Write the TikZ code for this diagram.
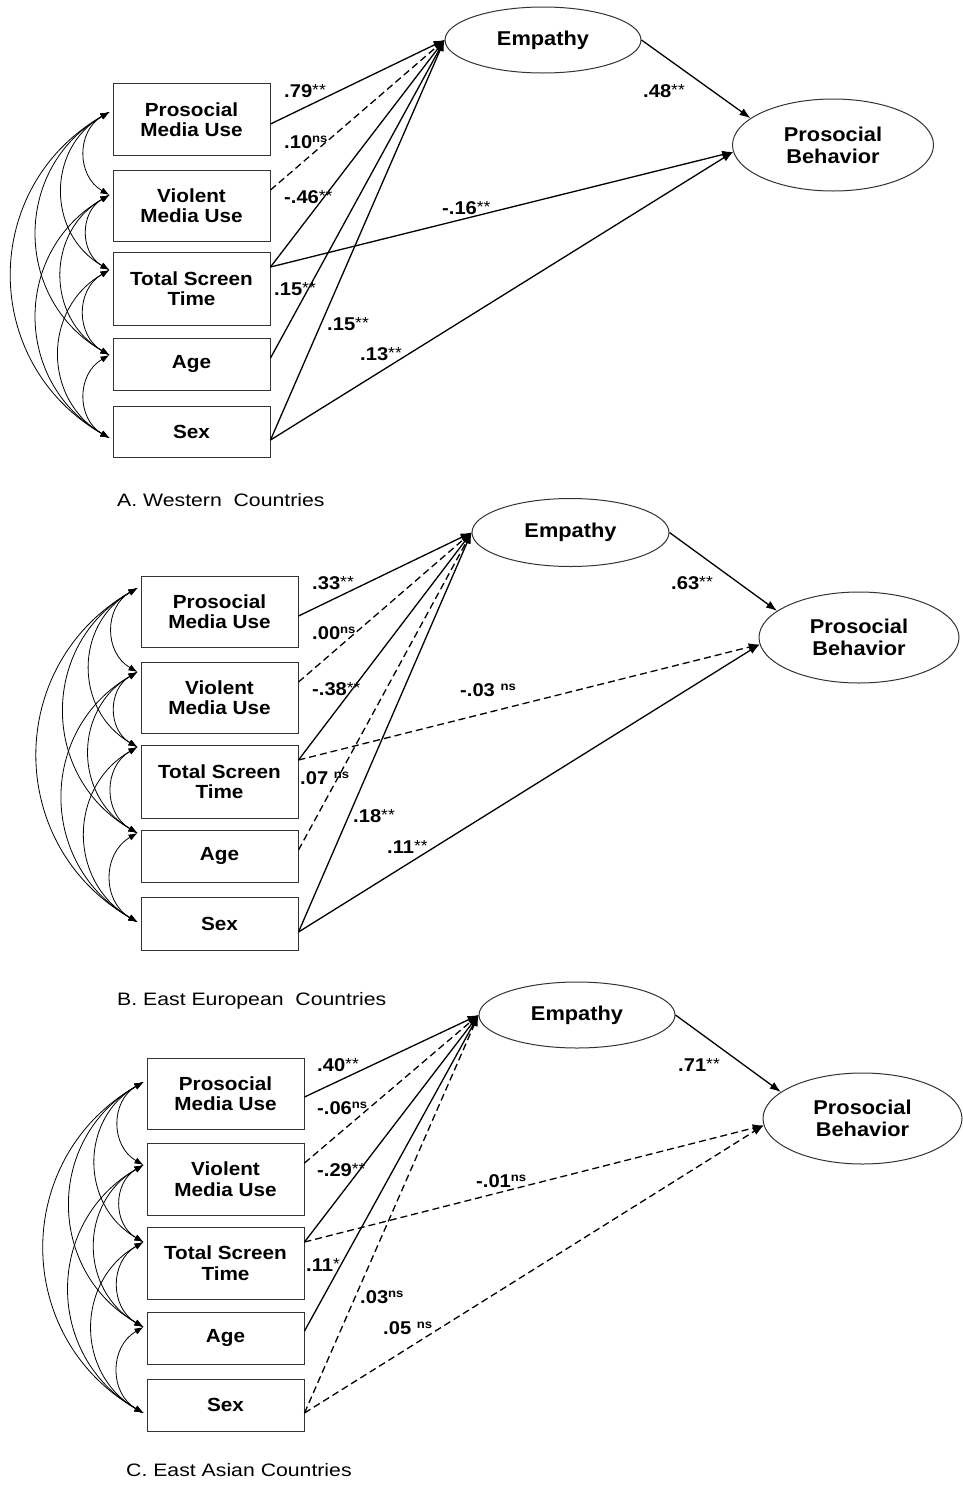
\documentclass[tikz,border=0pt]{standalone}
\usepackage{fontspec}
\setmainfont{Liberation Sans}[FakeStretch=1.09]
\newfontfamily\capfont{Liberation Sans}[FakeStretch=1.18]
\usetikzlibrary{arrows.meta,shapes.geometric,calc}
\newcommand\st[1]{\raisebox{1.8pt}{\fontsize{16}{16}\selectfont\mdseries #1}}
\newcommand\nsx[1]{\raisebox{6pt}{\fontsize{12}{12}\selectfont\bfseries #1}}
\begin{document}
\begin{tikzpicture}[x=1pt,y=-1pt,
  box/.style={draw=black!80, line width=1pt, minimum width=157pt, align=center, inner sep=0pt, font=\fontsize{19}{20.5}\selectfont\bfseries},
  ell/.style={ellipse, draw=black!80, line width=1pt, align=center, inner sep=0pt, font=\fontsize{20}{22}\selectfont\bfseries},
  pth/.style={line width=1.3pt, -{Latex[length=11pt,width=8pt]}},
  nsp/.style={pth, dash pattern=on 7pt off 4pt},
  cov/.style={line width=0.8pt, {Latex[length=9pt,width=6.5pt]}-{Latex[length=9pt,width=6.5pt]}},
  lab/.style={anchor=base west, inner sep=0pt, font=\fontsize{18.5}{18.5}\selectfont\bfseries},
  captxt/.style={anchor=base west, inner sep=0pt, font=\capfont\fontsize{18}{18}\selectfont}
]
\useasboundingbox[fill=white] (0,0) rectangle (963,1489);

% ================= Panel A =================
\node[box, minimum height=72pt] (aP) at (191.5,119.5) {Prosocial\\Media Use};
\node[box, minimum height=71pt] (aV) at (191.5,205.5) {Violent\\Media Use};
\node[box, minimum height=73pt] (aT) at (191.5,288.5) {Total Screen\\Time};
\node[box, minimum height=52pt] (aA) at (191.5,364) {Age};
\node[box, minimum height=51pt] (aS) at (191.5,431.5) {Sex};
\node[ell, minimum width=196pt, minimum height=66pt] (aE) at (543,40) {Empathy};
\node[ell, minimum width=201pt, minimum height=92pt] (aB) at (833,145) {Prosocial\\Behavior};

\coordinate (aPc) at ($(aP.west)+(-3,-7.5)$);
\coordinate (aVc) at ($(aV.west)+(-3,-10.5)$);
\coordinate (aTc) at ($(aT.west)+(-3,-18.5)$);
\coordinate (aAc) at ($(aA.west)+(-3,-9)$);
\coordinate (aSc) at ($(aS.west)+(-3,6.5)$);
\foreach \i/\j in {P/V,P/T,P/A,P/S,V/T,V/A,V/S,T/A,T/S,A/S}
  \draw[cov] (a\i c) to[bend right=60,looseness=1.18] (a\j c);

\draw[pth] ($(aP.east)+(0,4.5)$) -- (aE.west);
\draw[nsp] ($(aV.east)+(0,-15.5)$) -- (aE.west);
\draw[pth] ($(aT.east)+(0,-21.5)$) -- (aE.west);
\draw[pth] ($(aA.east)+(0,-6)$) -- (aE.west);
\draw[pth] ($(aS.east)+(0,8.5)$) -- (aE.west);
\draw[pth] ($(aT.east)+(0,-21.5)$) -- (aB.184);
\draw[pth] ($(aS.east)+(0,8.5)$) -- (aB.184);
\draw[pth] (aE.east) -- (aB.162);

\node[lab] (la1) at (284,97.3) {.79\st{**}};
\node[lab] (la2) at (284,148) {.10\nsx{ns}};
\node[lab] (la3) at (284,203) {-.46\st{**}};
\node[lab] (la4) at (274,295) {.15\st{**}};
\node[lab] (la5) at (327,330) {.15\st{**}};
\node[lab] (la6) at (360,360) {.13\st{**}};
\node[lab] (la7) at (442,214) {-.16\st{**}};
\node[lab] (la8) at (643,97) {.48\st{**}};
\node[captxt] (capA) at (117,506) {A. Western\ \ Countries};

% ================= Panel B =================
\node[box, minimum height=71pt] (bP) at (219.5,611.5) {Prosocial\\Media Use};
\node[box, minimum height=71pt] (bV) at (219.5,697.5) {Violent\\Media Use};
\node[box, minimum height=73pt] (bT) at (219.5,781.5) {Total Screen\\Time};
\node[box, minimum height=52pt] (bA) at (219.5,856) {Age};
\node[box, minimum height=53pt] (bS) at (219.5,923.5) {Sex};
\node[ell, minimum width=197pt, minimum height=68pt] (bE) at (570.5,532.5) {Empathy};
\node[ell, minimum width=200pt, minimum height=91pt] (bB) at (859,637.5) {Prosocial\\Behavior};

\coordinate (bPc) at ($(bP.west)+(-3,-23.5)$);
\coordinate (bVc) at ($(bV.west)+(-3,-25.5)$);
\coordinate (bTc) at ($(bT.west)+(-3,-34.5)$);
\coordinate (bAc) at ($(bA.west)+(-3,-23)$);
\coordinate (bSc) at ($(bS.west)+(-3,-1.5)$);
\foreach \i/\j in {P/V,P/T,P/A,P/S,V/T,V/A,V/S,T/A,T/S,A/S}
  \draw[cov] (b\i c) to[bend right=60,looseness=1.18] (b\j c);

\draw[pth] ($(bP.east)+(0,4.5)$) -- (bE.west);
\draw[nsp] ($(bV.east)+(0,-15.5)$) -- (bE.west);
\draw[pth] ($(bT.east)+(0,-21.5)$) -- (bE.west);
\draw[nsp] ($(bA.east)+(0,-6)$) -- (bE.west);
\draw[pth] ($(bS.east)+(0,8.5)$) -- (bE.west);
\draw[nsp] ($(bT.east)+(0,-21.5)$) -- (bB.184);
\draw[pth] ($(bS.east)+(0,8.5)$) -- (bB.184);
\draw[pth] (bE.east) -- (bB.162);

\node[lab] (lb1) at (312,589) {.33\st{**}};
\node[lab] (lb2) at (312,639) {.00\nsx{ns}};
\node[lab] (lb3) at (312,695) {-.38\st{**}};
\node[lab] (lb4) at (300,784) {.07 \nsx{ns}};
\node[lab] (lb5) at (353,822) {.18\st{**}};
\node[lab] (lb6) at (387,853) {.11\st{**}};
\node[lab] (lb7) at (460,696) {-.03 \nsx{ns}};
\node[lab] (lb8) at (671,589) {.63\st{**}};
\node[captxt] (capB) at (117,1005) {B. East European\ \ Countries};

% ================= Panel C =================
\node[box, minimum height=71pt] (cP) at (225.5,1093.5) {Prosocial\\Media Use};
\node[box, minimum height=72pt] (cV) at (225.5,1179) {Violent\\Media Use};
\node[box, minimum height=72pt] (cT) at (225.5,1263) {Total Screen\\Time};
\node[box, minimum height=52pt] (cA) at (225.5,1338) {Age};
\node[box, minimum height=52pt] (cS) at (225.5,1405) {Sex};
\node[ell, minimum width=196pt, minimum height=66pt] (cE) at (577,1015) {Empathy};
\node[ell, minimum width=199pt, minimum height=91pt] (cB) at (862.5,1118.5) {Prosocial\\Behavior};

\coordinate (cPc) at ($(cP.west)+(-3,-11.5)$);
\coordinate (cVc) at ($(cV.west)+(-3,-14)$);
\coordinate (cTc) at ($(cT.west)+(-3,-21)$);
\coordinate (cAc) at ($(cA.west)+(-3,-11)$);
\coordinate (cSc) at ($(cS.west)+(-3,8)$);
\foreach \i/\j in {P/V,P/T,P/A,P/S,V/T,V/A,V/S,T/A,T/S,A/S}
  \draw[cov] (c\i c) to[bend right=60,looseness=1.18] (c\j c);

\draw[pth] ($(cP.east)+(0,3.5)$) -- (cE.west);
\draw[nsp] ($(cV.east)+(0,-16)$) -- (cE.west);
\draw[pth] ($(cT.east)+(0,-21)$) -- (cE.west);
\draw[pth] ($(cA.east)+(0,-7)$) -- (cE.west);
\draw[nsp] ($(cS.east)+(0,8)$) -- (cE.west);
\draw[nsp] ($(cT.east)+(0,-21)$) -- (cB.184);
\draw[nsp] ($(cS.east)+(0,8)$) -- (cB.184);
\draw[pth] (cE.east) -- (cB.162);

\node[lab] (lc1) at (317,1071) {.40\st{**}};
\node[lab] (lc2) at (317,1114) {-.06\nsx{ns}};
\node[lab] (lc3) at (317,1176) {-.29\st{**}};
\node[lab] (lc4) at (306,1271) {.11\st{*}};
\node[lab] (lc5) at (360,1303) {.03\nsx{ns}};
\node[lab] (lc6) at (383,1334) {.05 \nsx{ns}};
\node[lab] (lc7) at (476,1187) {-.01\nsx{ns}};
\node[lab] (lc8) at (678,1071) {.71\st{**}};
\node[captxt] (capC) at (126,1476) {C. East Asian Countries};
\end{tikzpicture}
\end{document}
